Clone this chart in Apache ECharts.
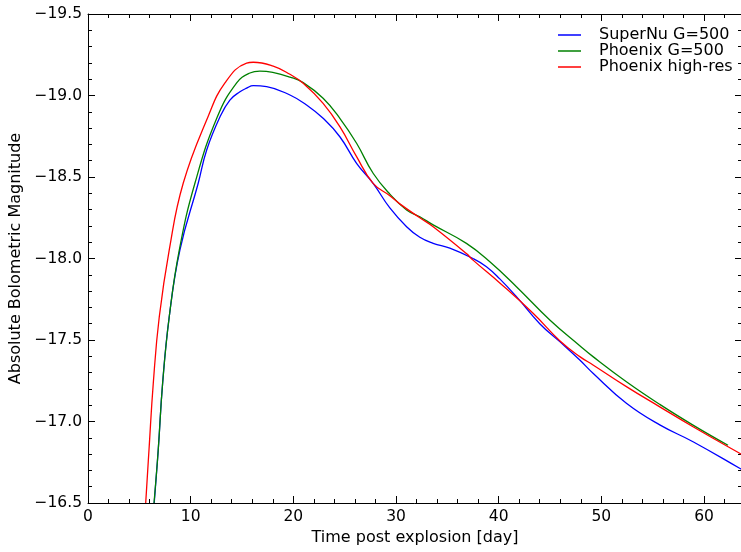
<!DOCTYPE html>
<html>
<head>
<meta charset="utf-8">
<script src="https://cdn.jsdelivr.net/npm/echarts@6/dist/echarts.min.js"></script>
<style>html,body{margin:0;padding:0;background:#fff;}#c{width:741px;height:552px;}</style>
</head>
<body>
<div id="c"></div>
<script>
var seriesNames = ['SuperNu G=500', 'Phoenix G=500', 'Phoenix high-res'];
var xTicks = [0, 10, 20, 30, 40, 50, 60];
var yTicks = [-19.5, -19.0, -18.5, -18.0, -17.5, -17.0, -16.5];

var blueT = [6.45, 6.84, 7.27, 7.91, 8.95, 10.74, 11.56, 12.85, 13.82, 14.8, 15.45, 16.1, 17.4, 19.67, 21.29, 22.9, 24.53, 26.16, 27.77, 29.4, 31.03, 32.32, 33.62, 35.24, 37.5, 38.81, 40.11, 41.73, 44.0, 45.95, 47.9, 49.19, 52.44, 55.69, 58.93, 63.47, 63.8];
var blueM = [-16.5, -16.825, -17.236, -17.641, -18.052, -18.463, -18.666, -18.868, -18.972, -19.023, -19.045, -19.06, -19.054, -19.003, -18.942, -18.86, -18.747, -18.584, -18.461, -18.31, -18.195, -18.13, -18.093, -18.063, -18.0, -17.95, -17.875, -17.766, -17.6, -17.49, -17.377, -17.296, -17.112, -16.979, -16.876, -16.713, -16.70];

var greenT = [6.43, 6.84, 7.27, 7.91, 8.89, 10.42, 12.59, 14.48, 15.77, 16.74, 18.0, 19.67, 20.96, 22.9, 24.53, 26.16, 27.77, 29.4, 31.03, 32.32, 33.62, 36.86, 39.14, 41.73, 44.98, 47.9, 49.19, 52.44, 55.69, 58.93, 62.34];
var greenM = [-16.5, -16.825, -17.236, -17.641, -18.052, -18.463, -18.868, -19.077, -19.138, -19.150, -19.142, -19.113, -19.079, -18.983, -18.86, -18.707, -18.523, -18.395, -18.298, -18.256, -18.206, -18.093, -17.98, -17.827, -17.623, -17.465, -17.398, -17.244, -17.105, -16.978, -16.854];

var redT = [5.62, 5.94, 6.36, 6.94, 7.91, 9.28, 11.68, 13.34, 15.45, 16.1, 18.04, 19.67, 20.96, 22.9, 24.53, 26.16, 27.77, 29.4, 30.37, 32.32, 33.62, 36.86, 37.5, 40.11, 43.35, 45.95, 47.9, 49.19, 52.44, 55.69, 58.93, 63.47, 63.8];
var redM = [-16.5, -16.825, -17.236, -17.641, -18.052, -18.463, -18.868, -19.077, -19.199, -19.204, -19.18, -19.13, -19.075, -18.952, -18.809, -18.625, -18.461, -18.385, -18.335, -18.25, -18.195, -18.03, -17.99, -17.85, -17.664, -17.496, -17.398, -17.347, -17.214, -17.09, -16.968, -16.805, -16.795];

function pairs(t, m) { return t.map(function (v, i) { return [v, m[i]]; }); }
var FONT = 'DejaVu Sans';
function fmtY(v) { return v.toFixed(1).replace('-', '\u2212'); }
var xMin = 0, xMax = 63.7, yMin = -19.5, yMax = -16.5;

var axisCommonX = {
  type: 'value', min: xMin, max: xMax, interval: 10,
  axisLine: { show: true, onZero: false, lineStyle: { color: '#000', width: 1 } },
  axisTick: { show: true, inside: true, length: 7, lineStyle: { color: '#000', width: 1 } },
  minorTick: { show: true, splitNumber: 5, length: 4, lineStyle: { color: '#000', width: 1 } },
  splitLine: { show: false }
};
var axisCommonY = {
  type: 'value', min: yMin, max: yMax, interval: 0.5, inverse: true,
  axisLine: { show: true, onZero: false, lineStyle: { color: '#000', width: 1 } },
  axisTick: { show: true, inside: true, length: 7, lineStyle: { color: '#000', width: 1 } },
  minorTick: { show: true, splitNumber: 5, length: 4, lineStyle: { color: '#000', width: 1 } },
  splitLine: { show: false }
};

var chart = echarts.init(document.getElementById('c'), null, { renderer: 'canvas' });
chart.setOption({
  animation: false,
  backgroundColor: '#fff',
  textStyle: { fontFamily: FONT },
  grid: { left: 88, top: 14, width: 654, height: 489, containLabel: false, outerBoundsMode: 'none' },
  legend: {
    data: seriesNames,
    orient: 'vertical',
    left: 558, top: 27,
    padding: 0,
    itemGap: 0,
    itemWidth: 23, itemHeight: 1.5,
    icon: 'rect',
    textStyle: { fontFamily: FONT, fontSize: 16, color: '#000', lineHeight: 15, padding: [0, 0, 0, 13] }
  },
  xAxis: [
    Object.assign({}, axisCommonX, {
      position: 'bottom',
      name: 'Time post explosion [day]', nameLocation: 'middle', nameGap: 27,
      nameTextStyle: { fontFamily: FONT, fontSize: 16, color: '#000' },
      axisLabel: {
        show: true, margin: 6, color: '#000', fontFamily: FONT, fontSize: 15.5,
        showMaxLabel: false,
        formatter: function (v) { return xTicks.indexOf(v) >= 0 ? String(v) : ''; }
      }
    }),
    Object.assign({}, axisCommonX, { position: 'top', axisLabel: { show: false } })
  ],
  yAxis: [
    Object.assign({}, axisCommonY, {
      position: 'left',
      name: 'Absolute Bolometric Magnitude', nameLocation: 'middle', nameGap: 60, nameRotate: 90,
      nameTextStyle: { fontFamily: FONT, fontSize: 16, color: '#000' },
      axisLabel: {
        show: true, margin: 6, color: '#000', fontFamily: FONT, fontSize: 15.5,
        formatter: function (v) { return yTicks.indexOf(v) >= 0 ? fmtY(v) : ''; }
      }
    }),
    Object.assign({}, axisCommonY, { position: 'right', axisLabel: { show: false } })
  ],
  series: [
    { name: seriesNames[0], type: 'line', data: pairs(blueT, blueM), showSymbol: false, smooth: 0.45,
      lineStyle: { color: '#0000ff', width: 1.3 }, itemStyle: { color: '#0000ff' }, clip: true, z: 3 },
    { name: seriesNames[1], type: 'line', data: pairs(greenT, greenM), showSymbol: false, smooth: 0.45,
      lineStyle: { color: '#008000', width: 1.3 }, itemStyle: { color: '#008000' }, clip: true, z: 4 },
    { name: seriesNames[2], type: 'line', data: pairs(redT, redM), showSymbol: false, smooth: 0.45,
      lineStyle: { color: '#ff0000', width: 1.3 }, itemStyle: { color: '#ff0000' }, clip: true, z: 5 }
  ]
});
</script>
</body>
</html>
